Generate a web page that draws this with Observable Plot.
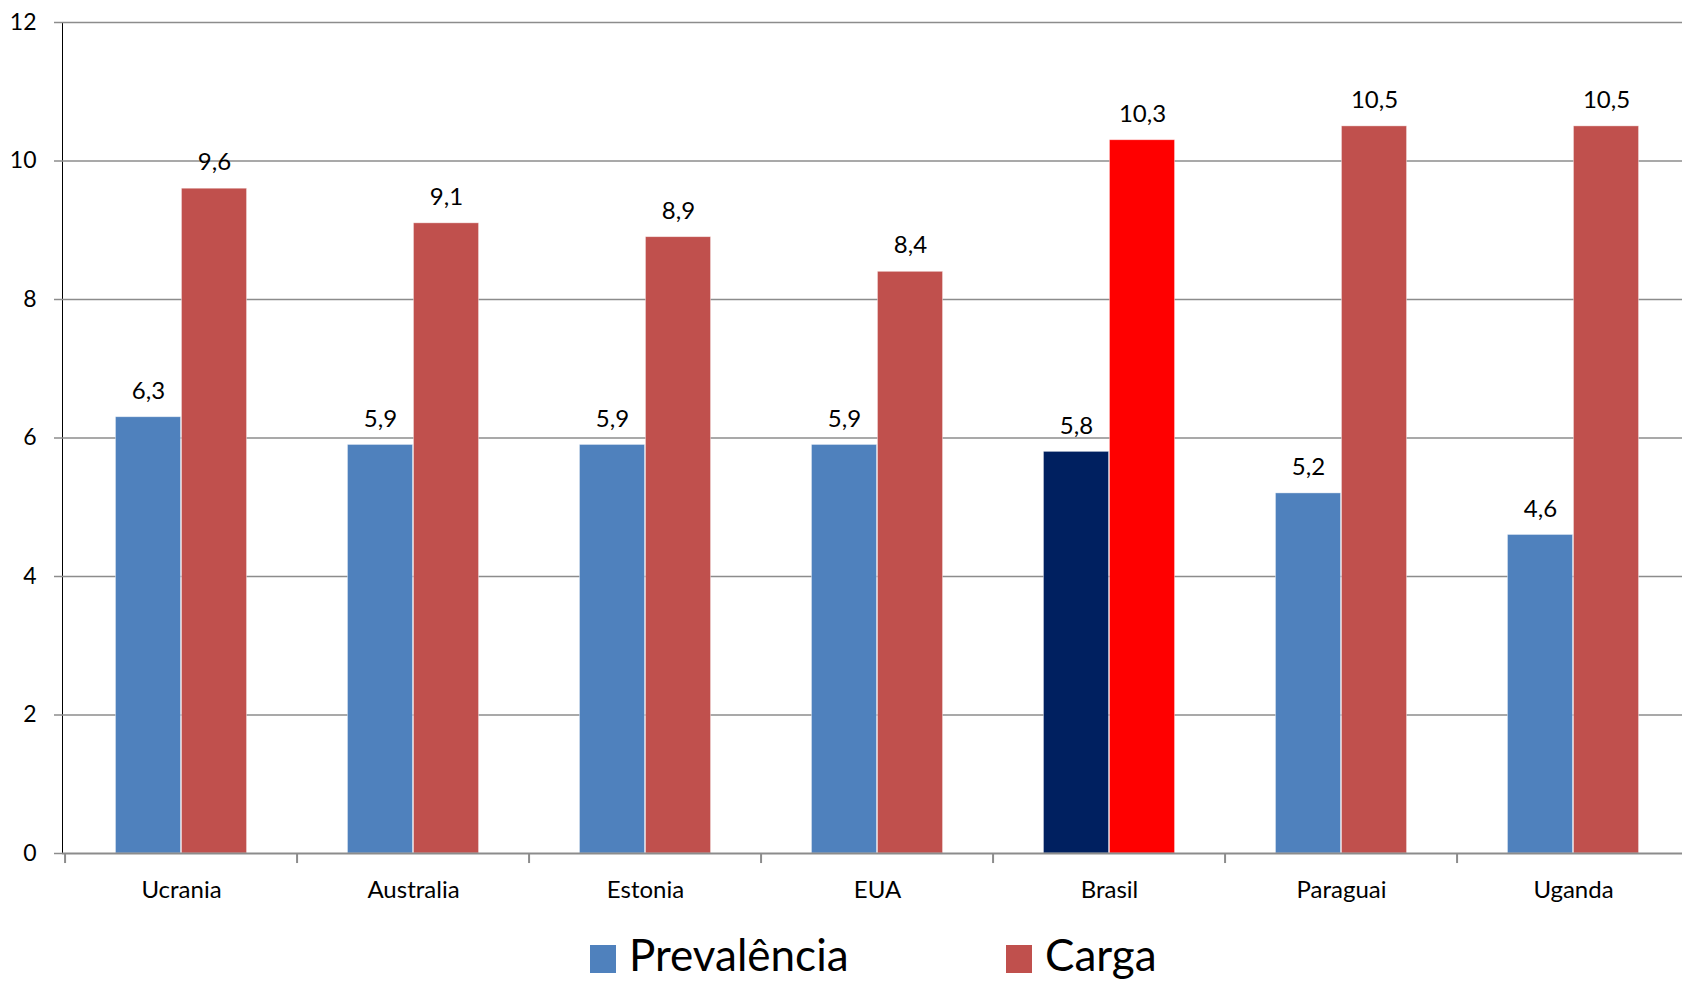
<!DOCTYPE html>
<html>
<head>
<meta charset="utf-8">
<script src="https://cdn.jsdelivr.net/npm/d3@7"></script>
<script src="https://cdn.jsdelivr.net/npm/@observablehq/plot@0.6"></script>
<style>
  html, body { margin: 0; padding: 0; background: #fff; overflow: hidden; }
  #chart { width: 1682px; overflow: hidden; }
  #chart svg { display: block; max-width: none !important; }
  [aria-label^="y-axis"] line, [aria-label^="y-axis"] path { stroke: #8c8c8c; stroke-width: 1.5; stroke-opacity: 1; }
  [aria-label^="y-axis"] text { font-size: 23px; }
  #legend { position: relative; height: 66px; width: 1682px; }
  #legend svg { display: block; }
</style>
</head>
<body>
<div id="chart"></div>
<div id="legend"></div>
<script>
const countries = ["Ucrania", "Australia", "Estonia", "EUA", "Brasil", "Paraguai", "Uganda"];
const prevalencia = [6.3, 5.9, 5.9, 5.9, 5.8, 5.2, 4.6];
const carga = [9.6, 9.1, 8.9, 8.4, 10.3, 10.5, 10.5];
const seriesNames = ["Prevalência", "Carga"];
const yTicks = [0, 2, 4, 6, 8, 10, 12];
const highlight = "Brasil";

const rows = countries.flatMap((c, i) => [
  {country: c, series: seriesNames[0], value: prevalencia[i]},
  {country: c, series: seriesNames[1], value: carga[i]}
]);
const colorKey = d => d.series + (d.country === highlight ? " (destaque)" : "");
const fmt = v => d3.format(".1f")(v).replace(".", ",");

const width = 1692, marginLeft = 62, marginRight = 0;
const step = (width - marginLeft - marginRight) / countries.length;
const barW = 66;
const gray = "#8c8c8c";
const font = "Lato, 'Open Sans', sans-serif";

const chart = Plot.plot({
  width,
  height: 915,
  marginLeft,
  marginRight,
  marginTop: 22,
  marginBottom: 62,
  style: {fontFamily: font, fontSize: "24px", color: "#000", background: "#fff", maxWidth: "none"},
  x: {domain: countries, padding: 0, tickSize: 0, tickPadding: 27, label: null},
  y: {domain: [0, 12], ticks: yTicks, tickFormat: d => String(d), tickSize: 8, tickPadding: 18, line: true, label: null},
  color: {
    domain: ["Prevalência", "Carga", "Prevalência (destaque)", "Carga (destaque)"],
    range: ["#4F81BD", "#C0504D", "#002060", "#FF0000"]
  },
  marks: [
    Plot.ruleY(yTicks.filter(t => t > 0), {y: d => d, stroke: gray, strokeWidth: 1.5}),
    Plot.barY(rows.filter(d => d.series === seriesNames[0]), {
      x: "country", y: "value", fill: colorKey,
      insetLeft: step / 2 - barW, insetRight: step / 2,
      stroke: "#fff", strokeWidth: 0.8, strokeOpacity: 0.5
    }),
    Plot.barY(rows.filter(d => d.series === seriesNames[1]), {
      x: "country", y: "value", fill: colorKey,
      insetLeft: step / 2, insetRight: step / 2 - barW,
      stroke: "#fff", strokeWidth: 0.8, strokeOpacity: 0.5
    }),
    Plot.ruleY([0], {y: d => d, stroke: gray, strokeWidth: 2}),
    Plot.ruleX(countries, {x: d => d, dx: -step / 2, y1: 0, y2: -0.145, stroke: gray, strokeWidth: 2}),
    Plot.text(rows.filter(d => d.series === seriesNames[0]), {
      x: "country", y: "value", text: d => fmt(d.value), dx: -barW / 2, dy: -26, fontSize: 24, fill: "#000"
    }),
    Plot.text(rows.filter(d => d.series === seriesNames[1]), {
      x: "country", y: "value", text: d => fmt(d.value), dx: barW / 2, dy: -26, fontSize: 24, fill: "#000"
    })
  ]
});
chart.style.maxWidth = "none";
document.getElementById("chart").appendChild(chart);

// Legend below the chart
const legendItems = [
  {name: seriesNames[0], color: "#4F81BD", x: 590},
  {name: seriesNames[1], color: "#C0504D", x: 1006}
];
const lg = d3.select("#legend").append("svg").attr("width", 1682).attr("height", 66);
const items = lg.selectAll("g").data(legendItems).join("g").attr("transform", d => `translate(${d.x},0)`);
items.append("rect").attr("x", 0).attr("y", 30).attr("width", 26).attr("height", 28).attr("fill", d => d.color);
items.append("text").attr("x", 39).attr("y", 56)
  .attr("font-family", font).attr("font-size", 44).attr("fill", "#000")
  .text(d => d.name);
</script>
</body>
</html>
